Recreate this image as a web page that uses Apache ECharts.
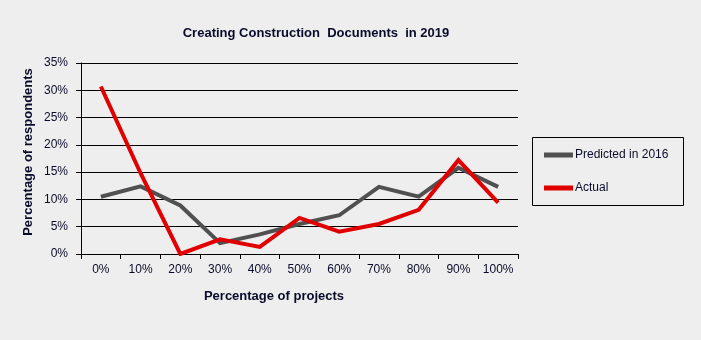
<!DOCTYPE html>
<html>
<head>
<meta charset="utf-8">
<script src="https://cdn.jsdelivr.net/npm/echarts@6/dist/echarts.min.js"></script>
<style>
  html, body { margin: 0; padding: 0; background: #eeeeee; }
  #chart { width: 701px; height: 340px; }
</style>
</head>
<body>
<div id="chart"></div>
<script>
// Share of projects (x) vs. share of respondents (y)
const categories = ['0%', '10%', '20%', '30%', '40%', '50%', '60%', '70%', '80%', '90%', '100%'];
const predicted2016 = [10.5, 12.4, 8.9, 2.0, 3.6, 5.5, 7.1, 12.3, 10.5, 15.8, 12.3];
const actual = [30.7, 14.8, 0.0, 2.7, 1.3, 6.6, 4.1, 5.5, 8.1, 17.2, 9.4];
const seriesNames = ['Predicted in 2016', 'Actual'];
const titleText = 'Creating Construction  Documents  in 2019';
const xAxisTitle = 'Percentage of projects';
const yAxisTitle = 'Percentage of respondents';

const font = 'Arial, "Liberation Sans", sans-serif';
const textColor = '#0a0a2a';

const chart = echarts.init(document.getElementById('chart'), null, { renderer: 'canvas' });

chart.setOption({
  backgroundColor: '#eeeeee',
  animation: false,
  graphic: [
    {
      type: 'text',
      x: 316,
      y: 33,
      style: {
        text: titleText,
        font: 'bold 13px ' + font,
        fill: textColor,
        align: 'center',
        verticalAlign: 'middle'
      }
    },
    {
      type: 'rect',
      shape: { x: 532.5, y: 137.5, width: 151, height: 68 },
      style: { fill: 'none', stroke: '#000', lineWidth: 1 },
      z: 1
    },
    {
      type: 'text',
      x: 28,
      y: 152,
      rotation: Math.PI / 2,
      style: {
        text: yAxisTitle,
        font: 'bold 13px ' + font,
        fill: textColor,
        align: 'center',
        verticalAlign: 'middle'
      }
    },
    {
      type: 'text',
      x: 274,
      y: 296,
      style: {
        text: xAxisTitle,
        font: 'bold 13px ' + font,
        fill: textColor,
        align: 'center',
        verticalAlign: 'middle'
      }
    }
  ],
  grid: { left: 81, right: 183, top: 63, bottom: 86, containLabel: false },
  xAxis: {
    type: 'category',
    data: categories,
    boundaryGap: true,
    axisLine: { lineStyle: { color: '#000', width: 1 } },
    axisTick: { show: true, interval: 0, length: 5, lineStyle: { color: '#000' } },
    axisLabel: { interval: 0, hideOverlap: false, fontFamily: font, fontSize: 12, color: textColor, margin: 10 },
    splitLine: { show: false }
  },
  yAxis: {
    type: 'value',
    min: 0,
    max: 35,
    interval: 5,
    axisLine: { show: true, lineStyle: { color: '#000', width: 1 } },
    axisTick: { show: true, length: 5, lineStyle: { color: '#000' } },
    axisLabel: { fontFamily: font, fontSize: 12, color: textColor, margin: 13, formatter: '{value}%' },
    splitLine: { show: true, lineStyle: { color: '#000', width: 1 } }
  },
  legend: {
    orient: 'vertical',
    left: 544,
    top: 149,
    itemWidth: 29,
    itemHeight: 5,
    itemGap: 21,
    icon: 'rect',
    padding: 0,
    textStyle: { fontFamily: font, fontSize: 12, color: textColor, padding: [0, 0, 0, -3] },
    data: seriesNames
  },
  series: [
    {
      name: seriesNames[0],
      type: 'line',
      data: predicted2016,
      symbol: 'none',
      lineStyle: { color: '#505050', width: 4, join: 'miter' },
      itemStyle: { color: '#505050' },
      z: 2
    },
    {
      name: seriesNames[1],
      type: 'line',
      data: actual,
      symbol: 'none',
      lineStyle: { color: '#e00000', width: 4, join: 'miter' },
      itemStyle: { color: '#e00000' },
      z: 3
    }
  ]
});
</script>
</body>
</html>
